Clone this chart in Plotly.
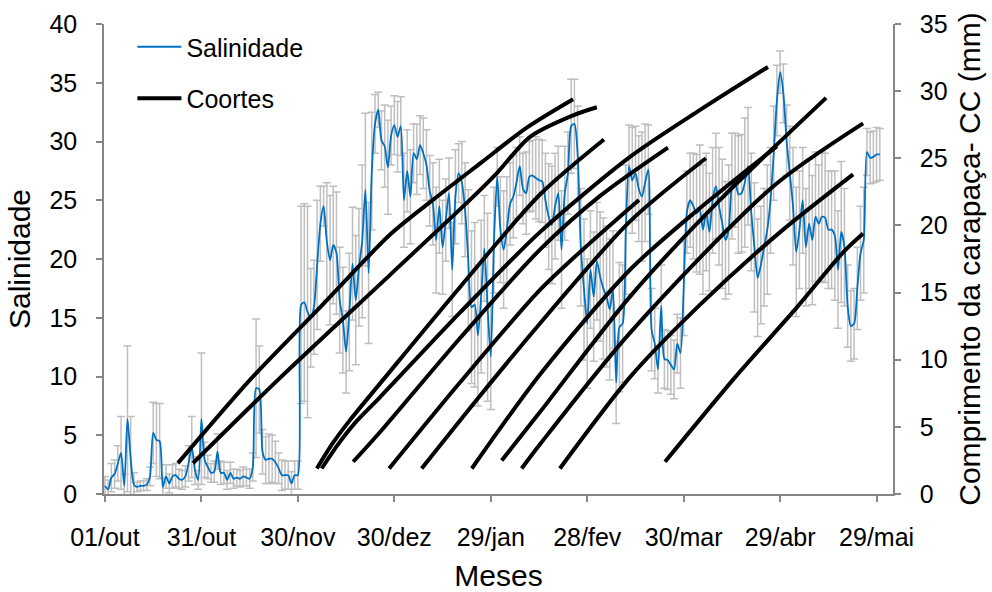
import plotly.graph_objects as go

# Daily mean salinity (day 0 = 01/out) and its standard deviation
salinidade = [
    0.7, 0.4, 1.4, 1.7, 2.6, 3.5, 0.7, 6.4, 3.0, 0.8,
    0.6, 0.7, 0.7, 0.8, 1.5, 5.2, 4.6, 4.5, 0.6, 1.5,
    0.9, 1.5, 1.6, 1.3, 1.2, 1.5, 2.6, 4.0, 2.0, 1.2,
    6.4, 2.9, 2.3, 1.8, 1.9, 3.6, 1.8, 1.8, 1.2, 1.8,
    1.3, 1.4, 1.3, 1.5, 1.4, 1.3, 2.3, 9.0, 8.9, 3.6,
    2.9, 3.0, 3.0, 2.7, 2.2, 1.6, 1.6, 1.6, 0.9, 1.6,
    1.6, 16.1, 16.3, 15.5, 15.0, 15.9, 19.5, 23.0, 24.5, 21.5,
    19.9, 21.2, 20.5, 16.5, 14.8, 12.1, 15.5, 19.6, 16.5, 19.3,
    21.5, 25.9, 18.8, 27.5, 31.5, 32.7, 30.1, 29.6, 27.8, 30.5,
    31.4, 30.4, 31.3, 25.0, 27.5, 25.3, 29.0, 28.5, 29.7, 29.0,
    28.0, 25.8, 24.7, 21.6, 24.5, 21.0, 23.3, 25.6, 19.1, 25.3,
    27.3, 26.5, 24.2, 19.9, 15.9, 16.1, 13.5, 16.8, 20.9, 15.9,
    11.7, 21.6, 27.0, 22.5, 20.8, 22.5, 24.7, 25.3, 26.5, 27.9,
    26.0, 25.6, 27.0, 27.1, 26.9, 26.7, 26.6, 25.0, 23.6, 22.9,
    24.5, 25.6, 20.8, 25.6, 27.3, 31.3, 31.5, 29.0, 21.0, 17.4,
    14.5, 19.1, 16.8, 19.8, 18.5, 17.5, 16.8, 15.7, 17.4, 9.5,
    14.2, 14.5, 22.5, 27.9, 26.7, 27.3, 26.0, 25.3, 26.5, 27.6,
    14.0, 12.8, 10.6, 16.0, 11.5, 11.4, 11.0, 10.6, 12.8, 12.0,
    17.5, 24.0, 25.0, 24.5, 23.9, 24.2, 22.5, 24.0, 22.3, 25.0,
    26.2, 24.5, 23.0, 21.6, 22.5, 26.2, 26.7, 25.5, 25.6, 26.5,
    27.9, 24.0, 21.0, 18.4, 19.5, 21.0, 22.5, 25.0, 29.0, 33.5,
    35.9, 34.1, 30.1, 27.3, 24.5, 20.6, 22.5, 25.0, 21.0, 23.0,
    21.6, 23.6, 23.0, 23.6, 23.5, 22.5, 22.5, 22.0, 19.1, 22.3,
    21.0, 16.0, 14.3, 14.5, 17.5, 20.5, 21.6, 29.1, 28.6, 28.7,
    28.9, 28.9,
]

desvio = [
    0.8, 0.8, 1.2, 1.2, 1.5, 3.1, 1.0, 6.2, 3.6, 1.0,
    0.4, 0.4, 0.4, 0.5, 0.8, 2.6, 3.1, 3.2, 0.8, 1.0,
    0.8, 1.0, 1.0, 0.8, 0.8, 0.9, 1.5, 2.6, 1.2, 0.8,
    5.6, 1.5, 1.0, 0.8, 0.9, 1.5, 1.0, 0.9, 0.8, 0.9,
    0.8, 0.7, 0.7, 0.8, 0.7, 0.8, 1.2, 5.9, 3.7, 1.9,
    2.0, 2.1, 2.0, 1.8, 1.3, 1.3, 1.2, 1.2, 1.0, 1.2,
    1.2, 8.4, 8.4, 9.0, 4.2, 4.0, 5.5, 3.2, 1.7, 5.0,
    5.5, 5.0, 5.2, 4.5, 4.5, 3.5, 5.0, 4.8, 5.5, 5.0,
    6.5, 6.5, 6.0, 5.0, 2.5, 1.5, 2.5, 3.5, 4.0, 2.5,
    2.5, 3.0, 2.5, 4.0, 3.5, 4.0, 2.5, 3.0, 2.5, 3.0,
    3.0, 3.0, 3.5, 4.5, 4.0, 4.0, 3.5, 3.0, 4.0, 4.0,
    2.5, 3.5, 4.0, 6.0, 6.5, 7.0, 6.0, 6.5, 4.5, 8.0,
    4.5, 4.5, 2.5, 4.5, 5.0, 4.5, 3.5, 3.5, 3.0, 2.5,
    3.0, 3.5, 3.0, 3.0, 3.5, 3.5, 3.5, 4.0, 4.5, 5.0,
    4.5, 4.0, 5.0, 4.0, 3.5, 4.0, 3.8, 4.0, 5.0, 6.0,
    5.5, 5.0, 5.5, 5.0, 5.5, 6.0, 6.0, 6.0, 5.0, 3.5,
    5.5, 5.0, 5.5, 3.5, 4.5, 4.0, 4.5, 5.5, 5.0, 3.8,
    3.5, 3.0, 2.0, 3.5, 2.5, 2.5, 2.5, 2.5, 2.5, 3.0,
    4.0, 3.5, 4.0, 4.5, 5.0, 5.5, 5.5, 5.0, 5.0, 4.5,
    4.5, 5.0, 5.5, 5.0, 5.5, 4.5, 4.0, 5.0, 5.0, 5.5,
    5.0, 5.0, 5.5, 5.0, 5.0, 5.0, 5.5, 4.5, 4.0, 3.0,
    1.8, 2.5, 3.0, 4.0, 5.0, 5.5, 5.0, 4.5, 5.0, 5.5,
    5.5, 5.5, 5.0, 5.5, 5.5, 5.0, 5.0, 5.5, 5.0, 6.0,
    5.0, 3.5, 3.0, 3.0, 3.5, 4.0, 4.5, 2.0, 2.2, 2.2,
    2.3, 2.2,
]

dias = list(range(len(salinidade)))

# Month tick marks (days since 01/out) and their labels
tick_dias = [0, 30, 60, 90, 120, 150, 180, 210, 240]
tick_rotulos = ["01/out", "31/out", "30/nov", "30/dez", "29/jan",
                "28/fev", "30/mar", "29/abr", "29/mai"]

# Cohort growth curves: day of sampling and carapace length CC (mm)
coortes_dias = [
    [22.7, 45.1, 66.9, 88.6, 102.0, 116.6, 131.3, 145.6],
    [27.4, 53.8, 88.6, 113.5, 121.9, 132.2, 145.6, 153.0],
    [65.9, 70.9, 76.2, 86.5, 110.4, 135.3, 155.2],
    [67.4, 72.5, 77.8, 85.5, 110.4, 135.3, 163.3, 185.1, 206.2],
    [77.2, 85.5, 110.4, 135.3, 154.0, 175.1],
    [88.4, 110.4, 135.3, 150.9, 166.1],
    [98.5, 116.6, 135.3, 163.3, 186.9],
    [114.1, 135.3, 163.3, 185.1, 209.0],
    [123.4, 135.3, 163.3, 191.3, 224.3],
    [129.6, 135.3, 163.3, 207.8, 235.8],
    [141.5, 163.3, 185.1, 210.0, 232.7],
    [174.2, 195.3, 215.2, 229.6, 235.8],
]
coortes_cc = [
    [2.3, 8.5, 13.9, 19.3, 21.9, 24.6, 27.3, 29.4],
    [2.3, 8.5, 16.3, 21.9, 23.9, 26.6, 28.2, 28.8],
    [1.9, 3.8, 5.5, 8.5, 15.4, 22.3, 26.4],
    [1.9, 3.7, 5.3, 7.2, 13.5, 19.5, 25.1, 28.6, 31.8],
    [2.4, 4.6, 11.6, 18.2, 22.2, 25.8],
    [1.9, 8.3, 15.2, 18.7, 21.9],
    [1.9, 7.3, 12.7, 20.3, 25.0],
    [1.9, 8.9, 16.7, 21.3, 25.9],
    [2.5, 6.1, 14.7, 21.9, 29.5],
    [1.9, 3.7, 12.0, 22.9, 27.6],
    [1.9, 8.7, 14.1, 19.5, 23.8],
    [2.4, 8.5, 13.9, 18.0, 19.4],
]

FONTE = "Liberation Sans, Arial, sans-serif"
EIXO = "#868686"

fig = go.Figure()

fig.add_trace(go.Scatter(
    x=dias, y=salinidade, name="Salinidade", mode="lines",
    line=dict(color="#0070C0", width=1.8, shape="spline", smoothing=0.7),
    error_y=dict(type="data", array=desvio, visible=True,
                 color="#BFBFBF", thickness=1.5, width=4),
    legendgroup="sal",
))

for k, (xd, yc) in enumerate(zip(coortes_dias, coortes_cc)):
    fig.add_trace(go.Scatter(
        x=xd, y=yc, yaxis="y2", mode="lines", name="Coortes",
        line=dict(color="black", width=4, shape="spline", smoothing=0.8),
        showlegend=(k == 0), legendgroup="coortes",
    ))

eixo_comum = dict(
    showline=True, linecolor=EIXO, linewidth=1.5,
    ticks="outside", ticklen=6, tickcolor=EIXO, tickwidth=1.5,
    showgrid=False, zeroline=False, automargin=False,
)

fig.update_layout(
    width=992, height=592,
    margin=dict(l=104, r=99, t=24, b=98),
    paper_bgcolor="white", plot_bgcolor="white",
    font=dict(family=FONTE, size=25, color="black"),
    showlegend=True,
    legend=dict(x=0.036, y=1.0, xanchor="left", yanchor="top",
                bgcolor="rgba(0,0,0,0)", font=dict(size=25),
                traceorder="grouped", tracegroupgap=16, itemwidth=44),
    xaxis=dict(
        range=[-0.3, 245.1], tickvals=tick_dias, ticktext=tick_rotulos,
        ticklabelstandoff=14, title=dict(text="Meses", standoff=24),
        **eixo_comum,
    ),
    yaxis=dict(
        range=[0, 40], dtick=5, ticklabelstandoff=14,
        title=dict(text="Salinidade", standoff=10),
        **eixo_comum,
    ),
    yaxis2=dict(
        range=[0, 35], dtick=5, overlaying="y", side="right",
        ticklabelstandoff=14,
        title=dict(text="Comprimento da carapaça- CC (mm)", standoff=12),
        **eixo_comum,
    ),
)

fig.write_html("out.html")
